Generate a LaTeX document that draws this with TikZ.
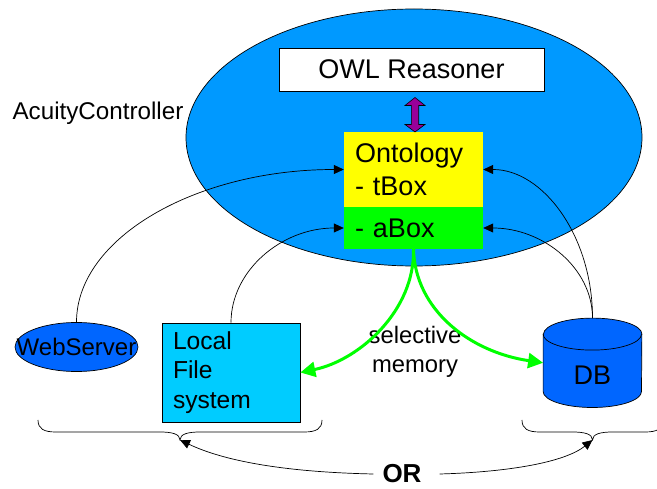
\documentclass[tikz,border=0pt]{standalone}
\usepackage{fontspec}
\setmainfont{Liberation Sans}
\usetikzlibrary{arrows.meta,shapes.geometric,calc}

\definecolor{ctrlblue}{HTML}{0099FF}
\definecolor{devblue}{HTML}{0066FF}
\definecolor{fsblue}{HTML}{00CCFF}
\definecolor{tboxyellow}{HTML}{FFFF00}
\definecolor{aboxgreen}{HTML}{00FF00}
\definecolor{reasonerpurple}{HTML}{990099}

\begin{document}
\begin{tikzpicture}[x=1pt,y=-1pt,
  txt/.style={font=\fontsize{24pt}{30pt}\selectfont},
  bigtxt/.style={font=\fontsize{27pt}{33pt}\selectfont},
  outline/.style={draw=black,line width=0.7pt},
  conn/.style={draw=black,line width=0.7pt,-{Triangle[length=10pt,width=9pt]}},
  memflow/.style={draw=aboxgreen,line width=3pt,-{Triangle[length=15pt,width=15pt]}},
  bracepath/.style={draw=black,line width=0.7pt}]

\useasboundingbox (0,0) rectangle (657,489);
\clip (0,0) rectangle (657,489);

% controller
\node[ellipse,outline,fill=ctrlblue,minimum width=456pt,minimum height=257pt,inner sep=0pt]
  (ctrl) at (414,137.5) {};
\node[font=\fontsize{24.2pt}{30pt}\selectfont,inner sep=0pt] (ctrllabel) at (98,113) {AcuityController};

% reasoner
\node[outline,fill=white,minimum width=265pt,minimum height=43pt,inner sep=0pt,
  font=\fontsize{27pt}{30pt}\selectfont] (owl) at (411.5,69.5) {OWL Reasoner};

% ontology boxes
\node[bigtxt,fill=tboxyellow,minimum width=139pt,minimum height=75pt,inner sep=0pt,
  text width=117pt,align=left] (tbox) at (413.5,169.5) {Ontology\\- tBox};
\node[bigtxt,fill=aboxgreen,minimum width=139pt,minimum height=42pt,inner sep=0pt,
  text width=117pt,align=left] (abox) at (413.5,228) {- aBox};

% reasoner <-> ontology
\fill[reasonerpurple,draw=black,line width=0.6pt]
  (415,97.5) -- (425,105.5) -- (418.7,105.5) -- (418.7,124.5) -- (425,124.5)
  -- (415,132) -- (405,124.5) -- (411.3,124.5) -- (411.3,105.5) -- (405,105.5) -- cycle;

% storage
\node[ellipse,outline,fill=devblue,minimum width=123pt,minimum height=49pt,inner sep=0pt,txt]
  (web) at (76.5,347) {\makebox[0pt][c]{WebServer}};
\node[outline,fill=fsblue,minimum width=138pt,minimum height=99pt,inner sep=0pt,
  text width=116pt,align=left,font=\fontsize{24.6pt}{29.5pt}\selectfont]
  (lfs) at (231,372.5) {Local\\File\\system};

\node[minimum width=98.4pt,minimum height=89pt,inner sep=0pt] (db) at (592.5,362.8) {};
\path[fill=devblue,outline]
  ($(db.north west)+(0,16)$) -- ($(db.south west)+(0,-16)$)
  arc[start angle=180,end angle=360,x radius=49.2pt,y radius=16pt]
  -- ($(db.north east)+(0,16)$)
  arc[start angle=0,end angle=180,x radius=49.2pt,y radius=16pt] -- cycle;
\draw[line width=0.7pt] ($(db.north west)+(0,16)$)
  arc[start angle=180,end angle=360,x radius=49.2pt,y radius=16pt];
\node[bigtxt,inner sep=0pt] (dblabel) at (592.5,375) {DB};

% selective memory
\node[align=center,font=\fontsize{23.8pt}{28.5pt}\selectfont,inner sep=0pt]
  (mem) at (415,352) {selective\\memory};
\draw[memflow] (abox.south) .. controls (415,310) and (360,360) .. (lfs.east);
\draw[memflow] (abox.south) .. controls (415,310) and (470,352) .. (db.west);

% loading into the ontology
\draw[conn] (web.north) .. controls (76.5,238) and (196,169.5) .. (tbox.west);
\draw[conn] (lfs.north) .. controls (231,270.6) and (281.6,228) .. (abox.west);
\draw[conn] (db.north) .. controls (592.5,236) and (543,169.5) .. (tbox.east);
\draw[conn] (db.north) .. controls (592.5,268) and (543,228) .. (abox.east);

% braces
\coordinate (lbtip) at (180,440);
\coordinate (rbtip) at (592.5,440);
\draw[bracepath] (38,420) .. controls (38,429) and (44,432) .. (56,432) -- (160,432)
  .. controls (172,432) and (180,434) .. (lbtip)
  .. controls (180,434) and (188,432) .. (200,432) -- (304,432)
  .. controls (316,432) and (322,429) .. (322,420);
\draw[bracepath] (522,420) .. controls (522,429) and (528,432) .. (540,432) -- (572.5,432)
  .. controls (584.5,432) and (592.5,434) .. (rbtip)
  .. controls (592.5,434) and (600.5,432) .. (612.5,432) -- (645,432)
  .. controls (657,432) and (663,429) .. (663,420);

% alternative
\node[font=\bfseries\fontsize{26pt}{30pt}\selectfont,inner sep=9pt] (or) at (402,474) {OR};
\draw[conn] (or.west) .. controls (280,472) and (222,460) .. (lbtip);
\draw[conn] ($(or.east)+(9,0)$) .. controls (510,472) and (565,462) .. (rbtip);
\end{tikzpicture}
\end{document}
